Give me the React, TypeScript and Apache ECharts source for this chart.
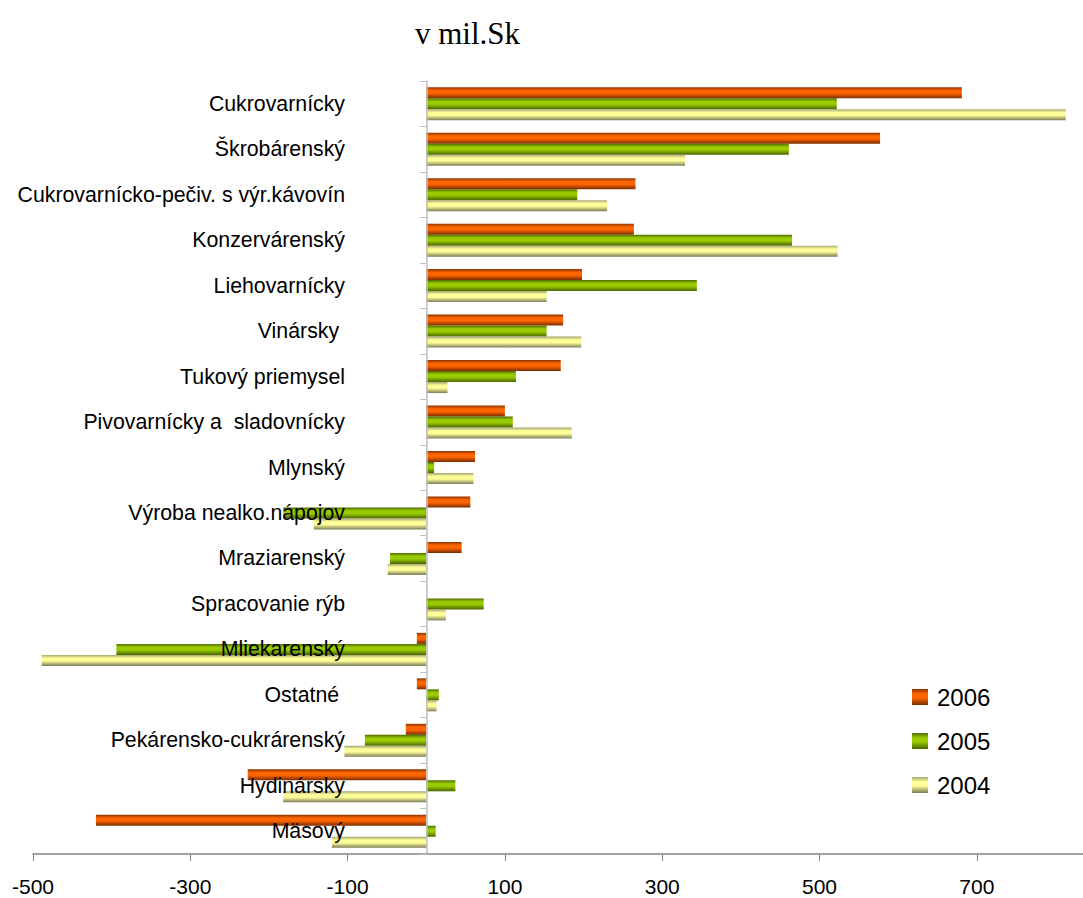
import React, { useEffect, useRef } from "react";
import * as echarts from "echarts";

const categories = [
  "Cukrovarnícky",
  "Škrobárenský",
  "Cukrovarnícko-pečiv. s výr.kávovín",
  "Konzervárenský",
  "Liehovarnícky",
  "Vinársky ",
  "Tukový priemysel",
  "Pivovarnícky a  sladovnícky",
  "Mlynský",
  "Výroba nealko.nápojov",
  "Mraziarenský",
  "Spracovanie rýb",
  "Mliekarenský",
  "Ostatné ",
  "Pekárensko-cukrárenský",
  "Hydinársky",
  "Mäsový",
];

const values2006 = [681, 577, 266, 264, 198, 174, 171, 100, 62, 56, 45, 0, -12, -12, -26, -227, -420];
const values2005 = [522, 461, 192, 465, 344, 153, 114, 110, 10, -182, -46, 73, -394, 16, -78, 37, 12];
const values2004 = [813, 329, 230, 523, 153, 197, 27, 185, 60, -143, -49, 25, -489, 13, -104, -182, -120];

const seriesNames = ["2006", "2005", "2004"];
const xTickInterval = 200;

const grad = (edgeTop: string, mid: string, edgeBottom: string) => ({
  type: "linear",
  x: 0,
  y: 0,
  x2: 0,
  y2: 1,
  colorStops: [
    { offset: 0, color: edgeTop },
    { offset: 0.3, color: mid },
    { offset: 0.55, color: mid },
    { offset: 1, color: edgeBottom },
  ],
});

export default function App() {
  const ref = useRef<HTMLDivElement>(null);

  useEffect(() => {
    if (!ref.current) return;
    const chart = echarts.init(ref.current, undefined, { renderer: "svg" });
    const font = "Liberation Sans, Arial, sans-serif";
    const colors = [
      grad("#8a3300", "#ff6600", "#7a2c00"),
      grad("#4f6a00", "#99cc00", "#4a6400"),
      grad("#a5a574", "#ffff99", "#7c7c58"),
    ];
    const data = [values2006, values2005, values2004];
    chart.setOption({
      animation: false,
      title: {
        text: "v mil.Sk",
        left: 410,
        top: 13,
        textStyle: {
          fontFamily: "Liberation Serif, Times New Roman, serif",
          fontSize: 31,
          fontWeight: "normal",
          color: "#000",
        },
      },
      legend: {
        orient: "vertical",
        left: 907,
        top: 680,
        itemWidth: 16,
        itemHeight: 16,
        itemGap: 20,
        icon: "rect",
        textStyle: { fontFamily: font, fontSize: 24, color: "#000", padding: [0, 0, 0, 4] },
        data: seriesNames,
      },
      grid: {
        left: 33,
        right: 0,
        top: 81,
        bottom: 898 - 854,
        containLabel: false,
        outerBoundsMode: "none",
      },
      xAxis: {
        type: "value",
        min: -500,
        max: 835,
        interval: xTickInterval,
        splitLine: { show: false },
        axisLine: { show: true, onZero: false, lineStyle: { color: "#858585", width: 1.5 } },
        axisTick: { show: true, length: 7, lineStyle: { color: "#858585" } },
        axisLabel: {
          margin: 22,
          fontFamily: font,
          fontSize: 21,
          color: "#000",
          showMaxLabel: false,
        },
      },
      yAxis: {
        type: "category",
        inverse: true,
        data: categories,
        z: 10,
        axisLine: { show: true, onZero: true, lineStyle: { color: "#bdbdbd", width: 1.5 } },
        axisTick: { show: true, length: 6, lineStyle: { color: "#bdbdbd" } },
        axisLabel: {
          margin: 33 - 345,
          fontFamily: font,
          fontSize: 21.3,
          color: "#000",
          padding: [0, 0, 4, 0],
        },
      },
      series: seriesNames.map((name, i) => ({
        name,
        type: "bar",
        data: data[i],
        barWidth: 11,
        barGap: "0%",
        itemStyle: { color: colors[i] },
      })),
    });
    return () => chart.dispose();
  }, []);

  return (
    <div
      ref={ref}
      style={{ position: "absolute", left: 0, top: 0, width: 1083, height: 898, background: "#fff" }}
    />
  );
}
